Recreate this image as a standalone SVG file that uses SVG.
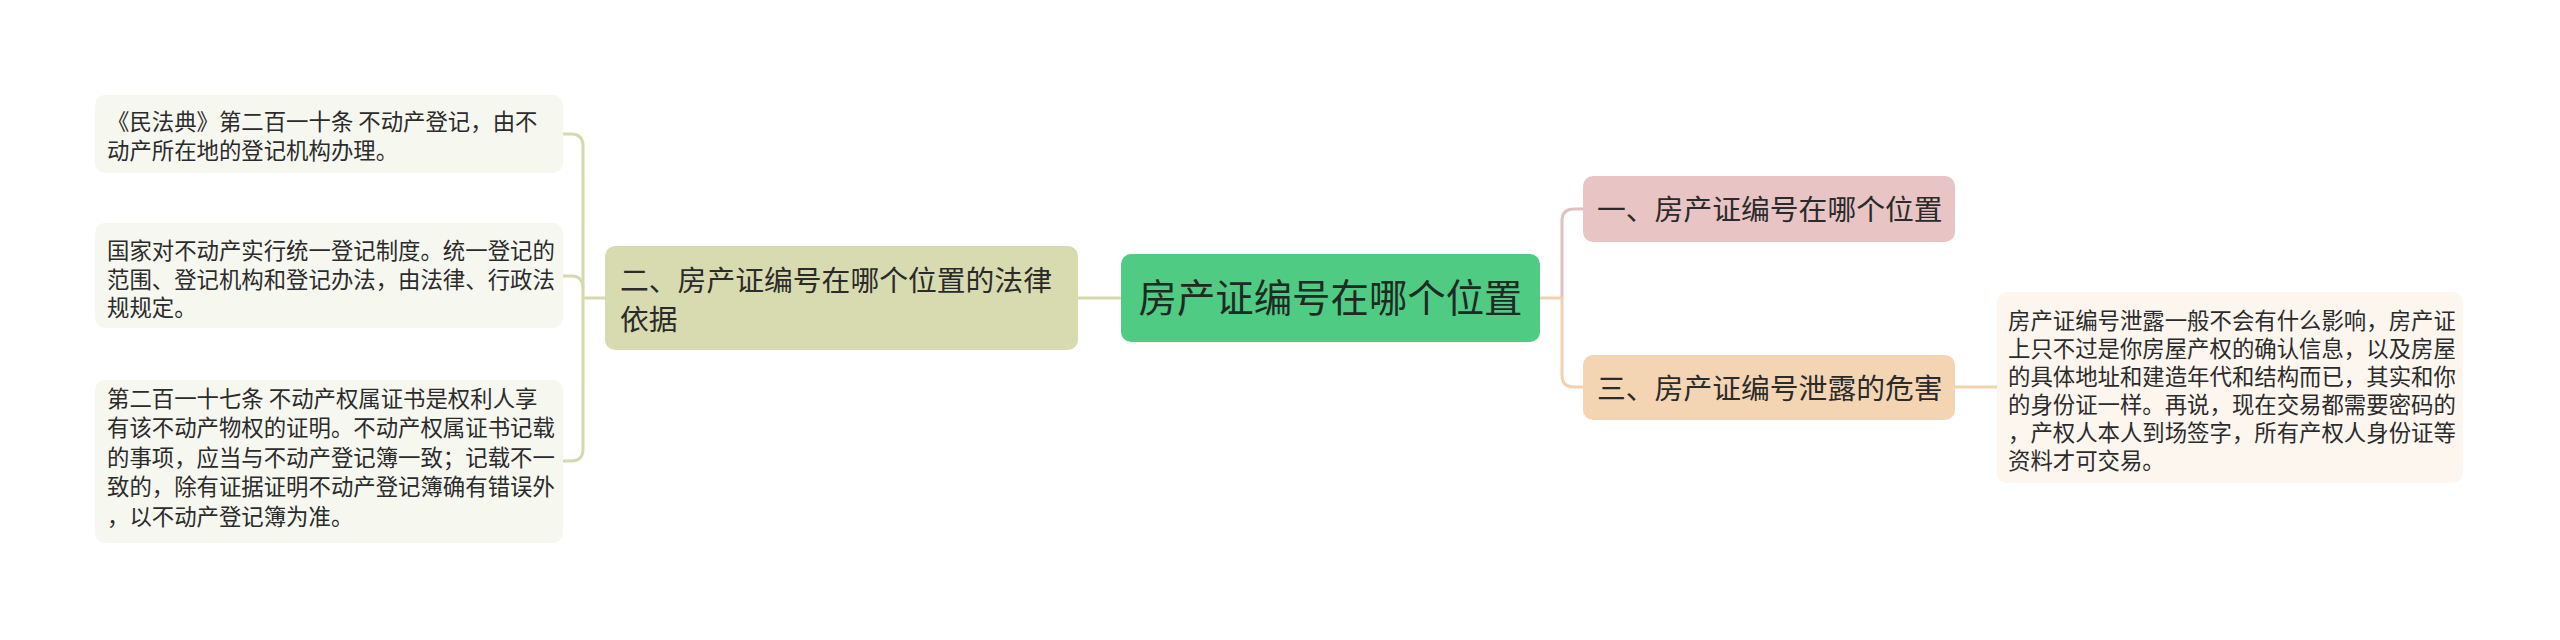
<svg xmlns="http://www.w3.org/2000/svg" width="2560" height="640" viewBox="0 0 2560 640">
<style>
text{font-family:"Noto Sans CJK SC","Microsoft YaHei",sans-serif;fill:#2b2b2b}
.leaf text{font-size:22.4px}
.br text{font-size:28.8px}
.c{stroke-width:3;fill:none;stroke-linecap:round}
.l{stroke:#d6d9ae}
.p{stroke:#e2c0c0}
.o{stroke:#f1d1ae}
</style>
<rect width="2560" height="640" fill="#ffffff"/>
<g id="connectors">
<path class="c l" d="M605,298 H583"/>
<path class="c l" d="M563,134 H571 Q583,134 583,146 V449 Q583,461 571,461 H563"/>
<path class="c l" d="M563,276 H571 Q583,276 583,288"/>
<path class="c l" d="M1078,298 H1121"/>
<path class="c o" d="M1540,298 H1562"/>
<path class="c p" d="M1562,298 V221 Q1562,209 1574,209 H1583"/>
<path class="c o" d="M1562,298 V375 Q1562,387 1574,387 H1583"/>
<path class="c o" d="M1955,387 H1997"/>
</g>
<g id="center">
<rect x="1121" y="254" width="419" height="88" rx="10" fill="#50cb84"/>
<text x="1330.5" y="312" font-size="38.4" text-anchor="middle" style="fill:#1f2a22">房产证编号在哪个位置</text>
</g>
<g id="branch2" class="br">
<rect x="605" y="246" width="473" height="104" rx="10" fill="#d8dbb0"/>
<text x="620" y="290.5">二、房产证编号在哪个位置的法律</text>
<text x="620" y="329.5">依据</text>
</g>
<g id="branch1" class="br">
<rect x="1583" y="176" width="372" height="66" rx="10" fill="#e8c4c4"/>
<text x="1597" y="220">一、房产证编号在哪个位置</text>
</g>
<g id="branch3" class="br">
<rect x="1583" y="355" width="372" height="65" rx="10" fill="#f3d5b3"/>
<text x="1597" y="398.5">三、房产证编号泄露的危害</text>
</g>
<g id="leaf1" class="leaf">
<rect x="95" y="95" width="468" height="78" rx="10" fill="#f6f7ef"/>
<text x="107" y="130">《民法典》第二百一十条 不动产登记，由不</text>
<text x="107" y="158.5">动产所在地的登记机构办理。</text>
</g>
<g id="leaf2" class="leaf">
<rect x="95" y="223" width="468" height="105" rx="10" fill="#f6f7ef"/>
<text x="107" y="258.5">国家对不动产实行统一登记制度。统一登记的</text>
<text x="107" y="287.5">范围、登记机构和登记办法，由法律、行政法</text>
<text x="107" y="316">规规定。</text>
</g>
<g id="leaf3" class="leaf">
<rect x="95" y="380" width="468" height="163" rx="10" fill="#f6f7ef"/>
<text x="107" y="407">第二百一十七条 不动产权属证书是权利人享</text>
<text x="107" y="436">有该不动产物权的证明。不动产权属证书记载</text>
<text x="107" y="465.5">的事项，应当与不动产登记簿一致；记载不一</text>
<text x="107" y="495">致的，除有证据证明不动产登记簿确有错误外</text>
<text x="107" y="524.5">，以不动产登记簿为准。</text>
</g>
<g id="leaf4" class="leaf">
<rect x="1997" y="292" width="466" height="191" rx="10" fill="#fdf6ef"/>
<text x="2008" y="329">房产证编号泄露一般不会有什么影响，房产证</text>
<text x="2008" y="357">上只不过是你房屋产权的确认信息，以及房屋</text>
<text x="2008" y="385">的具体地址和建造年代和结构而已，其实和你</text>
<text x="2008" y="413">的身份证一样。再说，现在交易都需要密码的</text>
<text x="2008" y="441">，产权人本人到场签字，所有产权人身份证等</text>
<text x="2008" y="469">资料才可交易。</text>
</g>
</svg>
